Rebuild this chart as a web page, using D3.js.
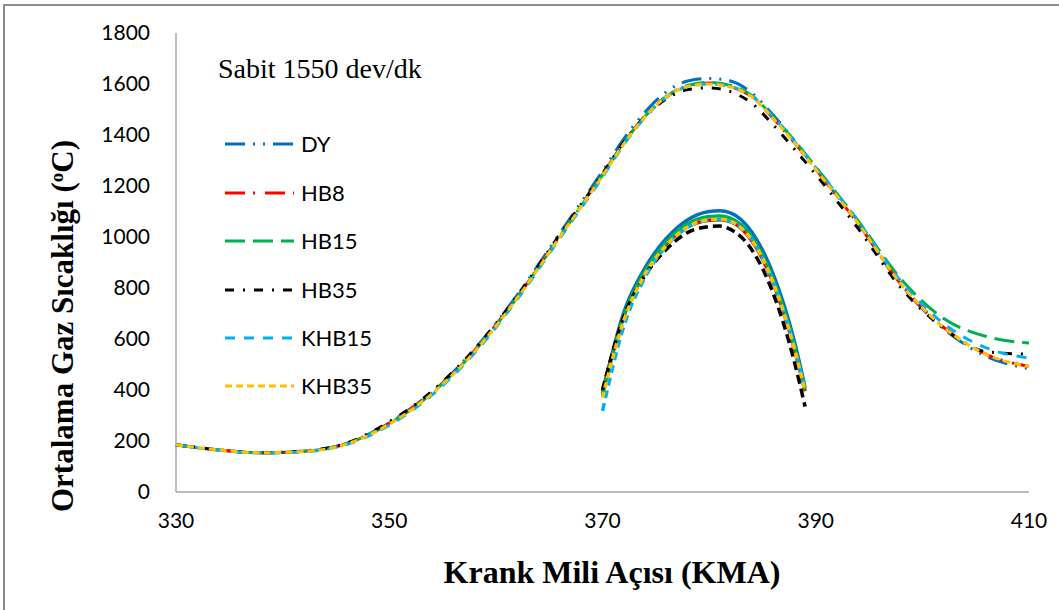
<!DOCTYPE html>
<html>
<head>
<meta charset="utf-8">
<script src="https://cdn.jsdelivr.net/npm/d3@7"></script>
<style>
  body { margin: 0; background: #fff; }
  svg { display: block; }
</style>
</head>
<body>
<script>
// Krank mili acisi (x) and gas temperature series
var angles = [330,334,338,342,346,350,354,358,362,366,370,372,374,376,378,380,382,384,386,388,390,394,398,402,406,410];
var dy    = [185,165,154,160,190,272,392,560,772,1015,1258,1385,1490,1570,1612,1622,1612,1565,1478,1378,1268,1052,812,640,532,484];
var hb8   = [185,165,154,160,190,270,390,555,765,1005,1245,1370,1475,1550,1592,1604,1590,1550,1465,1370,1265,1050,815,645,540,492];
var hb15  = [185,165,154,160,190,268,388,553,763,1003,1243,1368,1474,1552,1594,1606,1594,1555,1472,1378,1275,1062,835,680,610,584];
var hb35  = [185,165,154,161,192,275,395,560,770,1010,1248,1372,1472,1542,1578,1585,1570,1525,1440,1345,1245,1032,800,642,550,540];
var khb15 = [185,164,153,158,186,262,380,545,755,995,1235,1362,1470,1548,1590,1600,1590,1553,1470,1375,1272,1060,825,660,565,525];
var khb35 = [185,165,154,159,188,266,385,550,760,1000,1240,1365,1472,1550,1590,1600,1588,1550,1465,1370,1265,1052,815,645,540,492];

// the zoomed peak drawn inside the plot
var insetAngles = [370,372,374,376,378,380,381,382,384,386,388,389];
var dyIn    = [388,705,880,995,1068,1100,1103,1095,1020,855,590,410];
var hb8In   = [395,690,862,972,1040,1066,1068,1060,985,820,560,395];
var hb15In  = [380,692,866,980,1052,1080,1082,1074,1000,835,575,400];
var hb35In  = [400,688,850,952,1018,1041,1043,1030,950,780,510,335];
var khb15In = [318,650,842,965,1038,1066,1068,1060,990,825,568,400];
var khb35In = [370,672,855,968,1040,1068,1070,1062,988,822,562,395];

var names   = ["DY","HB8","HB15","HB35","KHB15","KHB35"];
var xTicks  = [330,350,370,390,410];
var yTicks  = [0,200,400,600,800,1000,1200,1400,1600,1800];

var styles = {
  DY:    { color: "#0070C0", dash: "20,8,2,8,2,8" },
  HB8:   { color: "#FF0000", dash: "20,8,2,10" },
  HB15:  { color: "#00B050", dash: "20,8" },
  HB35:  { color: "#000000", dash: "9,9,2,9" },
  KHB15: { color: "#00B0F0", dash: "10,9" },
  KHB35: { color: "#FFC000", dash: "7,4" }
};
var insetDash = { DY: null, HB8: null, HB15: null, HB35: "9,5", KHB15: "8,5", KHB35: "6,4" };

var mainSeries  = [dy, hb8, hb15, hb35, khb15, khb35];
var insetSeries = [dyIn, hb8In, hb15In, hb35In, khb15In, khb35In];

var W = 1059, H = 610;
var svg = d3.select("body").append("svg").attr("width", W).attr("height", H);

// outer frame (cut at right and bottom like the original)
svg.append("rect").attr("x", 4).attr("y", 5).attr("width", 1080).attr("height", 640)
  .attr("fill", "none").attr("stroke", "#8c8c8c").attr("stroke-width", 2);

var x = d3.scaleLinear().domain([330, 410]).range([176, 1029]);
var y = d3.scaleLinear().domain([0, 1800]).range([492, 33]);

// axes lines
svg.append("line").attr("x1", x(330)).attr("x2", x(330)).attr("y1", y(1800)).attr("y2", y(0))
  .attr("stroke", "#a6a6a6").attr("stroke-width", 1.5);
svg.append("line").attr("x1", x(330)).attr("x2", x(410)).attr("y1", y(0)).attr("y2", y(0))
  .attr("stroke", "#a6a6a6").attr("stroke-width", 1.5);

var tickFont = "Lato, 'Open Sans', sans-serif";
var serif = "'Liberation Serif', 'Times New Roman', serif";

svg.append("g").selectAll("text").data(yTicks).join("text")
  .attr("x", 150).attr("y", function(d){ return y(d); }).attr("dy", "0.35em")
  .attr("text-anchor", "end").attr("font-family", tickFont).attr("font-size", 21).attr("fill", "#000")
  .text(function(d){ return d; });

svg.append("g").selectAll("text").data(xTicks).join("text")
  .attr("x", function(d){ return x(d); }).attr("y", 521).attr("dy", "0.35em")
  .attr("text-anchor", "middle").attr("font-family", tickFont).attr("font-size", 21).attr("fill", "#000")
  .text(function(d){ return d; });

// titles
svg.append("text").attr("x", 612).attr("y", 583).attr("text-anchor", "middle")
  .attr("font-family", serif).attr("font-weight", "bold")
  .attr("font-size", 32).text("Krank Mili Açısı (KMA)");

var yt = svg.append("text").attr("transform", "translate(73,326) rotate(-90)").attr("text-anchor", "middle")
  .attr("font-family", serif).attr("font-weight", "bold")
  .attr("font-size", 31);
yt.append("tspan").text("Ortalama Gaz Sıcaklığı (");
yt.append("tspan").attr("font-size", 19).attr("baseline-shift", "super").text("o");
yt.append("tspan").text("C)");

svg.append("text").attr("x", 218).attr("y", 78)
  .attr("font-family", serif).attr("font-size", 28)
  .text("Sabit 1550 dev/dk");

// lines
var line = d3.line().curve(d3.curveMonotoneX)
  .x(function(d){ return x(d[0]); }).y(function(d){ return y(d[1]); });

var plot = svg.append("g");
names.forEach(function(n, i){
  plot.append("path")
    .datum(d3.zip(angles, mainSeries[i]))
    .attr("d", line).attr("fill", "none")
    .attr("stroke", styles[n].color).attr("stroke-width", 3)
    .attr("stroke-dasharray", styles[n].dash);
});
names.forEach(function(n, i){
  var p = plot.append("path")
    .datum(d3.zip(insetAngles, insetSeries[i]))
    .attr("d", line).attr("fill", "none")
    .attr("stroke", styles[n].color).attr("stroke-width", 3.5);
  if(insetDash[n]) p.attr("stroke-dasharray", insetDash[n]);
});

// legend
var legendY = [144, 193, 241, 290, 338, 386];
var legend = svg.append("g");
names.forEach(function(n, i){
  legend.append("line").attr("x1", 225).attr("x2", 294).attr("y1", legendY[i]).attr("y2", legendY[i])
    .attr("stroke", styles[n].color).attr("stroke-width", 3).attr("stroke-dasharray", styles[n].dash);
  legend.append("text").attr("x", 301).attr("y", legendY[i]).attr("dy", "0.36em")
    .attr("font-family", tickFont).attr("font-size", 22).text(n);
});
</script>
</body>
</html>
